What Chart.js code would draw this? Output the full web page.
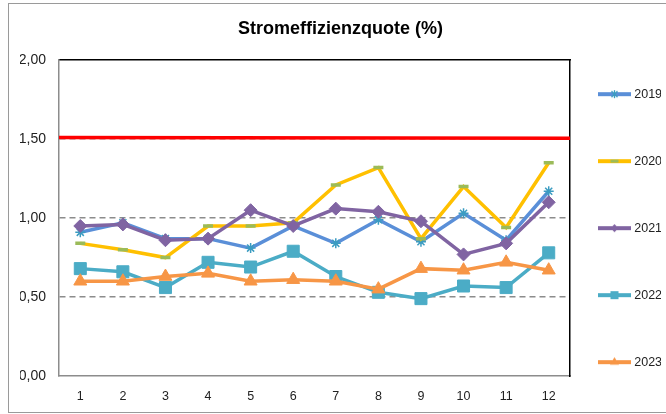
<!DOCTYPE html>
<html>
<head>
<meta charset="utf-8">
<script src="https://cdn.jsdelivr.net/npm/chart.js@4"></script>
<style>
    html, body { margin: 0; padding: 0; background: #fff; overflow: hidden; }
    #wrap { position: relative; width: 666px; height: 414px; }
    #chart { position: absolute; left: 0; top: 0; }
    #frame {
        position: absolute; left: 8px; top: 3px; width: 700px; height: 408px;
        border: 1.5px solid #9a9a9a; pointer-events: none;
    }
</style>
</head>
<body>
<div id="wrap">
    <canvas id="chart" width="666" height="414"></canvas>
    <div id="frame"></div>
</div>
<script>
    // months on the x axis
    const months = ['1', '2', '3', '4', '5', '6', '7', '8', '9', '10', '11', '12'];

    // yearly values
    const q2019 = [0.91, 0.97, 0.87, 0.87, 0.81, 0.95, 0.84, 0.99, 0.85, 1.03, 0.86, 1.17];
    const q2020 = [0.84, 0.80, 0.75, 0.95, 0.95, 0.97, 1.21, 1.32, 0.87, 1.20, 0.94, 1.35];
    const q2021 = [0.95, 0.96, 0.86, 0.87, 1.05, 0.95, 1.06, 1.04, 0.98, 0.77, 0.84, 1.10];
    const q2022 = [0.68, 0.66, 0.56, 0.72, 0.69, 0.79, 0.63, 0.53, 0.49, 0.57, 0.56, 0.78];
    const q2023 = [0.60, 0.60, 0.63, 0.65, 0.60, 0.61, 0.60, 0.55, 0.68, 0.67, 0.72, 0.67];

    // red target line, from left edge to right edge of the plot
    const targetEnds = [0, 1];
    const targetValues = [1.51, 1.505];

    const yTicks = [0, 0.5, 1, 1.5, 2];

    // small canvas used as legend symbol: line with marker in the middle
    function makeIcon(lineColor, markColor, kind) {
        const c = document.createElement('canvas');
        c.width = 33; c.height = 14;
        const g = c.getContext('2d');
        const cx = 16.5, cy = 7;
        g.strokeStyle = lineColor;
        g.lineWidth = 4;
        g.beginPath(); g.moveTo(0, cy); g.lineTo(33, cy); g.stroke();
        g.fillStyle = markColor;
        g.strokeStyle = markColor;
        if (kind === 'star') {
            g.lineWidth = 1.3;
            g.beginPath();
            g.moveTo(cx, cy - 4); g.lineTo(cx, cy + 4);
            g.moveTo(cx - 3, cy - 3); g.lineTo(cx + 3, cy + 3);
            g.moveTo(cx + 3, cy - 3); g.lineTo(cx - 3, cy + 3);
            g.stroke();
        } else if (kind === 'dash') {
            g.fillRect(cx - 4, cy - 1.5, 8, 3);
        } else if (kind === 'diamond') {
            g.beginPath();
            g.moveTo(cx, cy - 4); g.lineTo(cx + 4, cy); g.lineTo(cx, cy + 4); g.lineTo(cx - 4, cy);
            g.closePath(); g.fill();
        } else if (kind === 'square') {
            g.fillRect(cx - 4, cy - 4, 8, 8);
        } else if (kind === 'triangle') {
            g.beginPath();
            g.moveTo(cx, cy - 5); g.lineTo(cx + 4.5, cy + 2.5); g.lineTo(cx - 4.5, cy + 2.5);
            g.closePath(); g.fill();
        }
        return c;
    }

    const series = [
        { label: '2019', data: q2019, line: '#5a8fd8', mark: '#3b9cc1', style: 'star', radius: 5, bw: 1.5, icon: 'star' },
        { label: '2020', data: q2020, line: '#ffc000', mark: '#9bbb59', style: 'line', radius: 5, bw: 3.5, icon: 'dash' },
        { label: '2021', data: q2021, line: '#8064a2', mark: '#8064a2', style: 'rectRot', radius: 6.5, bw: 1, icon: 'diamond' },
        { label: '2022', data: q2022, line: '#4bacc6', mark: '#4bacc6', style: 'rect', radius: 8.5, bw: 1, icon: 'square' },
        { label: '2023', data: q2023, line: '#f79646', mark: '#f79646', style: 'triangle', radius: 7.5, bw: 1, icon: 'triangle' }
    ];

    const datasets = series.map(function (s, i) {
        return {
            label: s.label,
            data: s.data,
            xAxisID: 'x',
            yAxisID: 'y',
            borderColor: s.line,
            borderWidth: 3.5,
            pointStyle: s.style,
            pointRadius: s.radius,
            pointBorderWidth: s.bw,
            pointBackgroundColor: s.mark,
            pointBorderColor: s.mark,
            fill: false,
            tension: 0,
            order: 5 - i,
            legendIcon: makeIcon(s.line, s.mark, s.icon)
        };
    });

    datasets.push({
        label: 'Ziel',
        data: targetEnds.map(function (x, i) { return { x: x, y: targetValues[i] }; }),
        xAxisID: 'x2',
        yAxisID: 'y',
        borderColor: '#ff0000',
        borderWidth: 3.5,
        pointRadius: 0,
        fill: false,
        order: 10
    });

    const fontFamily = '"Liberation Sans", Arial, sans-serif';

    new Chart(document.getElementById('chart'), {
        type: 'line',
        data: { labels: months, datasets: datasets },
        options: {
            responsive: false,
            animation: false,
            devicePixelRatio: 1,
            events: [],
            layout: { padding: { left: 20, right: 5, top: 0, bottom: 0 } },
            plugins: {
                title: {
                    display: true,
                    text: 'Stromeffizienzquote (%)',
                    color: '#000',
                    font: { family: fontFamily, size: 18, weight: 'bold' },
                    padding: { top: 17.8, bottom: 20.8 }
                },
                tooltip: { enabled: false },
                legend: {
                    display: true,
                    position: 'right',
                    align: 'start',
                    maxWidth: 65,
                    // blank title only pushes the entries down
                    title: { display: true, text: ' ', font: { size: 12 }, padding: { top: 68.5, bottom: 0 } },
                    labels: {
                        usePointStyle: true,
                        pointStyleWidth: 27,
                        padding: 5,
                        color: '#222',
                        font: { family: fontFamily, size: 12.5, lineHeight: 15.5 / 12.5 },
                        generateLabels: function (chart) {
                            const ds = chart.data.datasets;
                            const out = [];
                            ds.forEach(function (d, i) {
                                if (!d.legendIcon) return;
                                const last = i === series.length - 1;
                                out.push({
                                    text: last ? [d.label] : [d.label, '', '', ''],
                                    pointStyle: d.legendIcon,
                                    fillStyle: d.borderColor,
                                    strokeStyle: d.borderColor,
                                    lineWidth: 0,
                                    hidden: false,
                                    datasetIndex: i,
                                    fontColor: '#222'
                                });
                            });
                            return out;
                        }
                    }
                }
            },
            scales: {
                x: {
                    type: 'category',
                    position: 'bottom',
                    offset: true,
                    grid: { display: false },
                    border: { display: true, color: '#8c8c8c', width: 1.5 },
                    ticks: { color: '#222', font: { family: fontFamily, size: 12.5 }, padding: 5, maxRotation: 0 },
                    afterFit: function (s) { s.height = 38; }
                },
                x2: {
                    type: 'linear',
                    position: 'top',
                    min: 0,
                    max: 1,
                    grid: { display: false, drawTicks: false },
                    border: { display: true, color: '#000', width: 1.5 },
                    ticks: { display: false },
                    afterFit: function (s) { s.height = 0; }
                },
                y: {
                    type: 'linear',
                    position: 'left',
                    min: 0,
                    max: 2,
                    afterBuildTicks: function (s) { s.ticks = yTicks.map(function (v) { return { value: v }; }); },
                    afterFit: function (s) { s.width = 39; },
                    grid: {
                        drawTicks: false,
                        lineWidth: 1.5,
                        color: function (c) {
                            const v = c.tick ? c.tick.value : null;
                            return (v === 0 || v === 2) ? 'rgba(0,0,0,0)' : '#8c8c8c';
                        }
                    },
                    border: { display: true, color: '#8c8c8c', width: 1.5, dash: [6, 4] },
                    ticks: {
                        color: '#222',
                        padding: 13,
                        font: { family: fontFamily, size: 14 },
                        callback: function (v) { return Number(v).toFixed(2).replace('.', ','); }
                    }
                },
                y2: {
                    type: 'linear',
                    position: 'right',
                    min: 0,
                    max: 2,
                    grid: { display: false, drawTicks: false },
                    border: { display: true, color: '#000', width: 1.5 },
                    ticks: { display: false },
                    afterFit: function (s) { s.width = 26; }
                }
            }
        }
    });
</script>
</body>
</html>
